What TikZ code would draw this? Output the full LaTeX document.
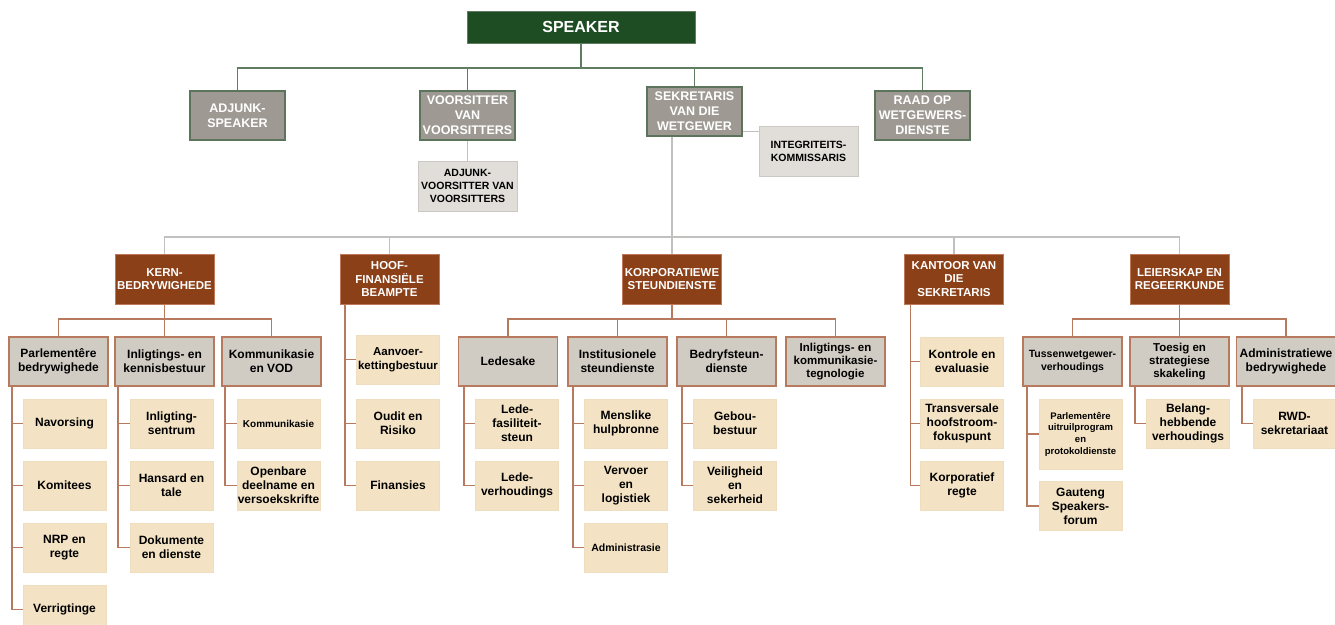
\documentclass[tikz,border=0pt]{standalone}
\usepackage{fontspec}
\setmainfont{Liberation Sans}
\usetikzlibrary{positioning}
\definecolor{spkgreen}{RGB}{31,77,35}
\definecolor{busgreen}{RGB}{96,125,98}
\definecolor{offgray}{RGB}{158,154,147}
\definecolor{offedge}{RGB}{92,116,92}
\definecolor{lightfill}{RGB}{225,222,217}
\definecolor{lightedge}{RGB}{204,201,196}
\definecolor{busgray}{RGB}{192,192,190}
\definecolor{headbrown}{RGB}{139,64,24}
\definecolor{headedge}{RGB}{190,120,90}
\definecolor{unitgray}{RGB}{208,203,195}
\definecolor{treebrown}{RGB}{183,122,95}
\definecolor{leaftan}{RGB}{243,227,196}
\definecolor{leafedge}{RGB}{238,222,190}
\tikzstyle{topbox}    = [rectangle, minimum width=228pt, minimum height=32pt,
                         text centered, draw=busgreen, fill=spkgreen, text=white,
                         font=\bfseries\fontsize{16}{18}\selectfont]
\tikzstyle{officebox} = [rectangle, minimum width=95pt, minimum height=49pt,
                         inner sep=1pt, align=center, draw=offedge,
                         line width=1.5pt, fill=offgray, text=white,
                         font=\bfseries\fontsize{12.5}{15}\selectfont]
\tikzstyle{lightbox}  = [rectangle, minimum width=99pt, minimum height=50pt,
                         inner sep=1pt, align=center, draw=lightedge,
                         line width=1pt, fill=lightfill,
                         font=\bfseries\fontsize{10.5}{13}\selectfont]
\tikzstyle{headbox}   = [rectangle, minimum width=99pt, minimum height=50pt,
                         inner sep=1pt, align=center, draw=headedge,
                         fill=headbrown, text=white,
                         font=\bfseries\fontsize{11.5}{13.5}\selectfont]
\tikzstyle{unitbox}   = [rectangle, minimum width=99pt, minimum height=49pt,
                         inner sep=1pt, align=center, draw=treebrown,
                         line width=1.5pt, fill=unitgray,
                         font=\bfseries\fontsize{12}{14}\selectfont]
\tikzstyle{leafbox}   = [rectangle, minimum width=83pt, minimum height=49pt,
                         inner sep=1pt, align=center, draw=leafedge,
                         fill=leaftan, font=\bfseries\fontsize{12}{14}\selectfont]
\tikzstyle{greenline} = [line width=1.6pt, draw=busgreen]
\tikzstyle{grayline}  = [line width=1.6pt, draw=busgray]
\tikzstyle{brownline} = [line width=1.6pt, draw=treebrown]

\begin{document}
\begin{tikzpicture}[x=1pt, y=-1pt, node distance=62pt]
\useasboundingbox (0,0) rectangle (1335,624);
% top of the house
\node (spk)  [topbox]    at (581,27)      {SPEAKER};
\node (adj)  [officebox] at (237.5,115.5) {ADJUNK-\\SPEAKER};
\node (vvv)  [officebox] at (467.5,115.5) {VOORSITTER\\VAN\\VOORSITTERS};
\node (sek)  [officebox] at (694.5,111.5) {SEKRETARIS\\VAN DIE\\WETGEWER};
\node (raad) [officebox] at (922.5,115.5) {RAAD OP\\WETGEWERS-\\DIENSTE};
\node (avv)  [lightbox,  below of=vvv, yshift=-8.5pt] {ADJUNK-\\VOORSITTER VAN\\VOORSITTERS};
\node (int)  [lightbox]  at (808.5,151)   {INTEGRITEITS-\\KOMMISSARIS};
% divisions
\node (kern) [headbox] at (164.5,279)  {KERN-\\BEDRYWIGHEDE};
\node (hfb)  [headbox] at (389.5,279)  {HOOF-\\FINANSIËLE\\BEAMPTE};
\node (kor)  [headbox] at (672,279)    {KORPORATIEWE\\STEUNDIENSTE};
\node (kvs)  [headbox] at (954,279)    {KANTOOR VAN\\DIE\\SEKRETARIS};
\node (lei)  [headbox] at (1179.5,279) {LEIERSKAP EN\\REGEERKUNDE};
% units
\node (parl) [unitbox] at (58.5,361.5)  {Parlementêre\\bedrywighede};
\node (ikb)  [unitbox] at (164.5,361.5) {Inligtings- en\\kennisbestuur};
\node (kvod) [unitbox] at (271.5,361.5) {Kommunikasie\\en VOD};
\node (led)  [unitbox] at (508,361.5)   {Ledesake};
\node (isd)  [unitbox] at (617.5,361.5) {Institusionele\\steundienste};
\node (bsd)  [unitbox] at (726.5,361.5) {Bedryfsteun-\\dienste};
\node (ikt)  [unitbox, font=\bfseries\fontsize{11.5}{13.3}\selectfont]
             at (835.5,361.5) {Inligtings- en\\kommunikasie-\\tegnologie};
\node (tww)  [unitbox, font=\bfseries\fontsize{10.5}{12.5}\selectfont]
             at (1072.5,361.5) {Tussenwetgewer-\\verhoudings};
\node (tss)  [unitbox, font=\bfseries\fontsize{11.5}{13.3}\selectfont]
             at (1179.5,361.5) {Toesig en\\strategiese\\skakeling};
\node (abw)  [unitbox] at (1286,361.5)  {Administratiewe\\bedrywighede};
% sections
\node (nav) [leafbox, below of=parl, xshift=6pt] {Navorsing};
\node (kom) [leafbox, below of=nav]              {Komitees};
\node (nrp) [leafbox, below of=kom]              {NRP en\\regte};
\node (vrg) [leafbox, below of=nrp]              {Verrigtinge};
\node (inl) [leafbox, below of=ikb, xshift=7pt]  {Inligting-\\sentrum};
\node (han) [leafbox, below of=inl]              {Hansard en\\tale};
\node (dok) [leafbox, below of=han]              {Dokumente\\en dienste};
\node (kmk) [leafbox, below of=kvod, xshift=7pt,
             font=\bfseries\fontsize{10}{12}\selectfont] {Kommunikasie};
\node (opb) [leafbox, below of=kmk]              {Openbare\\deelname en\\versoekskrifte};
\node (aan) [leafbox, below of=hfb, xshift=8.5pt, yshift=-18.5pt,
             font=\bfseries\fontsize{11.5}{14}\selectfont] {Aanvoer-\\kettingbestuur};
\node (oud) [leafbox, below of=aan, yshift=-2pt] {Oudit en\\Risiko};
\node (fin) [leafbox, below of=oud]              {Finansies};
\node (lfs) [leafbox, below of=led, xshift=9pt]  {Lede-\\fasiliteit-\\steun};
\node (lvh) [leafbox, below of=lfs]              {Lede-\\verhoudings};
\node (mhb) [leafbox, below of=isd, xshift=8.5pt] {Menslike\\hulpbronne};
\node (vvl) [leafbox, below of=mhb]              {Vervoer\\en\\logistiek};
\node (adm) [leafbox, below of=vvl,
             font=\bfseries\fontsize{10.5}{12}\selectfont] {Administrasie};
\node (geb) [leafbox, below of=bsd, xshift=8.5pt] {Gebou-\\bestuur};
\node (vsk) [leafbox, below of=geb]              {Veiligheid\\en\\sekerheid};
\node (kev) [leafbox, below of=kvs, xshift=8pt, yshift=-20.5pt] {Kontrole en\\evaluasie};
\node (tvh) [leafbox, below of=kev]              {Transversale\\hoofstroom-\\fokuspunt};
\node (krg) [leafbox, below of=tvh]              {Korporatief\\regte};
\node (pup) [leafbox, below of=tww, xshift=8pt, yshift=-10.5pt, minimum height=70pt,
             font=\bfseries\fontsize{9.5}{11.7}\selectfont]
             {Parlementêre\\uitruilprogram\\en\\protokoldienste};
\node (gsf) [leafbox, below of=pup, yshift=-10pt] {Gauteng\\Speakers-\\forum};
\node (bhv) [leafbox, below of=tss, xshift=8.5pt] {Belang-\\hebbende\\verhoudings};
\node (rwd) [leafbox, below of=abw, xshift=8.5pt] {RWD-\\sekretariaat};

% connectors
\foreach \n in {adj,vvv,sek,raad}
  \draw [greenline] (spk.south) -- ++(0,-25pt) -| (\n.north);
\draw [grayline] (vvv) -- (avv);
\draw [grayline] ([yshift=-20pt]sek.east) -- ([yshift=-20pt]sek.east -| int.west);
\draw [grayline] (sek.south -| kor.north) -- (kor.north);
\foreach \n in {kern,hfb,kvs,lei}
  \draw [grayline] (sek.south -| kor.north) -- ++(0,-100pt) -| (\n.north);
\foreach \n in {parl,ikb,kvod}
  \draw [brownline] (kern.south) -- ++(0,-15pt) -| (\n.north);
\foreach \n in {led,isd,bsd,ikt}
  \draw [brownline] (kor.south) -- ++(0,-15pt) -| (\n.north);
\foreach \n in {tww,tss,abw}
  \draw [brownline] (lei.south) -- ++(0,-15pt) -| (\n.north);
\foreach \n in {nav,kom,nrp,vrg}
  \draw [brownline] ([xshift=4pt]parl.south west) |- (\n.west);
\foreach \n in {inl,han,dok}
  \draw [brownline] ([xshift=4pt]ikb.south west) |- (\n.west);
\foreach \n in {kmk,opb}
  \draw [brownline] ([xshift=4pt]kvod.south west) |- (\n.west);
\foreach \n in {aan,oud,fin}
  \draw [brownline] ([xshift=5pt]hfb.south west) |- (\n.west);
\foreach \n in {lfs,lvh}
  \draw [brownline] ([xshift=6pt]led.south west) |- (\n.west);
\foreach \n in {mhb,vvl,adm}
  \draw [brownline] ([xshift=6pt]isd.south west) |- (\n.west);
\foreach \n in {geb,vsk}
  \draw [brownline] ([xshift=6pt]bsd.south west) |- (\n.west);
\foreach \n in {kev,tvh,krg}
  \draw [brownline] ([xshift=6pt]kvs.south west) |- (\n.west);
\foreach \n in {pup,gsf}
  \draw [brownline] ([xshift=5pt]tww.south west) |- (\n.west);
\draw [brownline] ([xshift=6pt]tss.south west) |- (bhv.west);
\draw [brownline] ([xshift=6pt]abw.south west) |- (rwd.west);
\end{tikzpicture}
\end{document}
